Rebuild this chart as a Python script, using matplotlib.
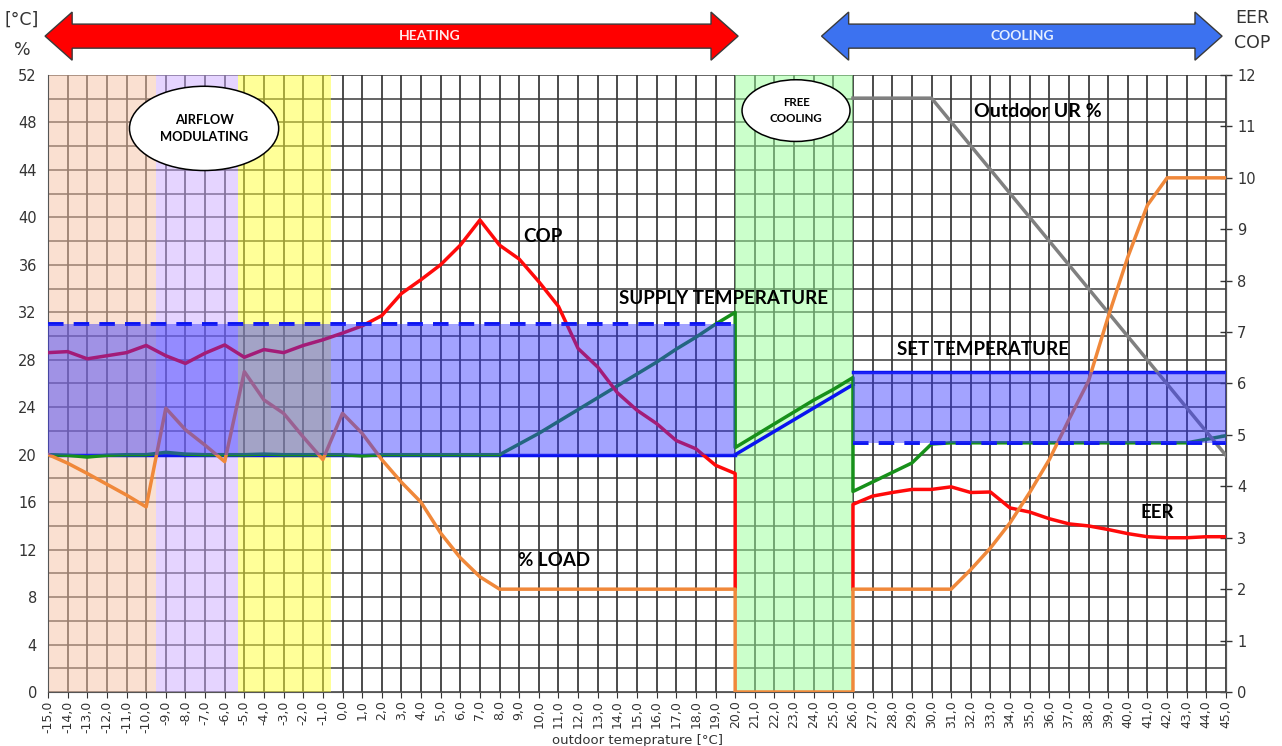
import numpy as np
import matplotlib
matplotlib.use("Agg")
import matplotlib.pyplot as plt
import matplotlib.patches as mpatches
import matplotlib.transforms as mtransforms

# ---- data ----
# outdoor temperature grid
x_ticks = list(range(-15, 46))
x_tick_labels = [f"{v},0" for v in x_ticks]

# COP (heating) / EER (cooling), right axis
cop_x = list(range(-15, 21)) + [20]
cop_y = [6.60, 6.62, 6.48, 6.54, 6.60, 6.74, 6.54, 6.39, 6.59, 6.75, 6.51, 6.66,
         6.60, 6.74, 6.85, 6.98, 7.12, 7.32, 7.75, 8.02, 8.31, 8.69, 9.18, 8.69,
         8.42, 7.98, 7.50, 6.68, 6.32, 5.82, 5.48, 5.22, 4.89, 4.73, 4.41, 4.25, 2.0]
eer_x = [26] + list(range(26, 46))
eer_y = [2.0, 3.65, 3.81, 3.88, 3.94, 3.94, 3.99, 3.88, 3.89, 3.58, 3.50, 3.37,
         3.27, 3.23, 3.16, 3.08, 3.02, 3.00, 3.00, 3.02, 3.02]

# % load, right axis
load_x = list(range(-15, 21)) + [20, 26] + list(range(26, 46))
load_y = [4.62, 4.45, 4.25, 4.04, 3.83, 3.60, 5.52, 5.10, 4.80, 4.48, 6.23, 5.68,
          5.42, 4.96, 4.52, 5.42, 5.03, 4.52, 4.08, 3.69, 3.09, 2.61, 2.24,
          2.0, 2.0, 2.0, 2.0, 2.0, 2.0, 2.0, 2.0, 2.0, 2.0, 2.0, 2.0, 2.0,
          0.0, 0.0,
          2.0, 2.0, 2.0, 2.0, 2.0, 2.0, 2.38, 2.80, 3.29, 3.88, 4.52, 5.30, 6.05,
          7.30, 8.46, 9.47, 10.0, 10.0, 10.0, 10.0]

# outdoor relative humidity, right axis
ur_x = [26, 30, 45]
ur_y = [11.55, 11.55, 4.6]

# supply temperature, left axis
sup_x = list(range(-15, 21)) + list(range(20, 27)) + list(range(26, 46))
sup_y = [20.0, 19.95, 19.8, 19.95, 20.0, 20.0, 20.2, 20.05, 20.0, 20.0, 20.0, 20.05,
         20.0, 20.0, 20.0, 20.0, 19.9, 20.0, 20.0, 20.0, 20.0, 20.0, 20.0,
         20.0, 20.9, 21.8, 22.8, 23.8, 24.8, 25.8, 26.8, 27.8, 28.9, 29.9, 31.0, 32.0,
         20.6, 21.6, 22.6, 23.6, 24.6, 25.5, 26.5,
         16.9, 17.7, 18.5, 19.3, 20.9, 21.0, 21.0, 21.0, 21.0, 21.0, 21.0, 21.0,
         21.0, 21.0, 21.0, 21.0, 21.0, 21.0, 21.3, 21.6]

# set temperature band, left axis
heat_set_x = [-15, 20]
heat_set_lo = [20, 20]
heat_set_hi = [31, 31]
free_set_x = [20, 26]
free_set_y = [20, 25.9]
cool_set_x = [26, 45]
cool_set_lo = [21, 21]
cool_set_hi = [27, 27]

# background zones (outdoor temperature ranges)
zones = [(-15, -9.5, '#F7C3A5'), (-9.5, -5.3, '#CDABFF'), (-5.3, -0.6, '#FFFF33'), (20, 26, '#99FF99')]

# ---- figure ----
fig = plt.figure(figsize=(12.82, 7.46), dpi=100)
ax = fig.add_axes([48 / 1282, 54 / 746, 1178 / 1282, 617 / 746])
ax.set_xlim(-15, 45)
ax.set_ylim(0, 52)

# right-axis values are drawn on the left axis through a scaling transform
r2l = mtransforms.Affine2D().scale(1, 52 / 12) + ax.transData

for x0, x1, c in zones:
    ax.axvspan(x0, x1, color=c, alpha=0.5, lw=0, zorder=1)

lw = 2.5
ax.plot(heat_set_x, heat_set_lo, color='#0A14F0', lw=lw, zorder=2)
ax.plot(free_set_x, free_set_y, color='#0A14F0', lw=lw, zorder=2)
ax.plot(cool_set_x, cool_set_hi, color='#0A14F0', lw=lw, zorder=2)
ax.plot(sup_x, sup_y, color='#17901A', lw=lw, zorder=3)
ax.plot(heat_set_x, heat_set_hi, color='#0A14F0', lw=2.8, ls=(0, (4, 2.6)), zorder=3.5)
ax.plot(cool_set_x, cool_set_lo, color='#0A14F0', lw=2.8, ls=(0, (4, 2.6)), zorder=3.5)
ax.plot(ur_x, ur_y, color='#808080', lw=lw, transform=r2l, zorder=3)
ax.plot(cop_x, cop_y, color='#FF0A0A', lw=lw, transform=r2l, zorder=3)
ax.plot(eer_x, eer_y, color='#FF0A0A', lw=lw, transform=r2l, zorder=3)
ax.plot(load_x, load_y, color='#F0883A', lw=lw, transform=r2l, zorder=3.2)

ax.fill_between(heat_set_x, heat_set_lo, heat_set_hi, color='#3333FF', alpha=0.45, lw=0, zorder=4)
ax.fill_between(cool_set_x, cool_set_lo, cool_set_hi, color='#3333FF', alpha=0.45, lw=0, zorder=4)

# grid
ax.set_xticks(x_ticks)
ax.set_xticklabels(x_tick_labels, rotation=90, fontsize=9, color='#333333', family='DejaVu Sans')
ax.set_yticks(range(0, 53, 4))
ax.set_yticks(range(0, 53, 2), minor=True)
ax.tick_params(axis='y', which='both', length=0, labelsize=10.5, colors='#333333', pad=8)
ax.tick_params(axis='x', length=4, color='#333333', pad=2)
ax.grid(axis='x', color='#1a1a1a', lw=1.1, zorder=0.5)
ax.grid(axis='y', which='both', color='#3a3a3a', lw=1.1, zorder=0.5)
ax.set_axisbelow(True)
for s in ax.spines.values():
    s.set_color('#555555')
ax.spines['top'].set_visible(False)

sec = ax.secondary_yaxis('right', functions=(lambda y: y * 12 / 52, lambda y: y * 52 / 12))
sec.set_yticks(range(0, 13))
sec.tick_params(direction='inout', length=9, labelsize=10.5, colors='#333333', width=1)
sec.spines['right'].set_color('#555555')

ax.set_xlabel('outdoor temeprature [°C]', fontsize=9.5, color='#333333', labelpad=1)

# labels on the chart
lab = dict(fontsize=13.5, fontweight='bold', family='Lato', ha='center', va='center', zorder=8)
ax.text(10.2, 38.4, 'COP', **lab)
ax.text(19.4, 33.2, 'SUPPLY TEMPERATURE', **lab)
ax.text(32.6, 28.9, 'SET TEMPERATURE', **lab)
ax.text(35.4, 48.9, 'Outdoor UR %', **dict(lab, fontsize=14))
ax.text(41.5, 15.1, 'EER', **lab)
ax.text(10.8, 11.1, '% LOAD', **lab)

ax.add_patch(mpatches.Ellipse((-7.05, 47.5), 7.6, 7.1, fc='white', ec='black', lw=1.1, zorder=7))
ax.text(-7.05, 47.5, 'AIRFLOW\nMODULATING', fontsize=9.3, fontweight='bold', family='Lato',
        ha='center', va='center', linespacing=1.5, zorder=8)
ax.add_patch(mpatches.Ellipse((23.1, 49.0), 5.5, 5.2, fc='white', ec='black', lw=1.1, zorder=7))
ax.text(23.1, 49.0, 'FREE\nCOOLING', fontsize=8.3, fontweight='bold', family='Lato',
        ha='center', va='center', linespacing=1.5, zorder=8)

# heating / cooling arrows above the plot
bt = mtransforms.blended_transform_factory(ax.transData, ax.transAxes)


def double_arrow(x0, x1, face, text, text_x, text_color):
    yc, bh, hh, hl = 1.063, 0.0195, 0.039, 1.38
    verts = [(x0, yc), (x0 + hl, yc + hh), (x0 + hl, yc + bh), (x1 - hl, yc + bh),
             (x1 - hl, yc + hh), (x1, yc), (x1 - hl, yc - hh), (x1 - hl, yc - bh),
             (x0 + hl, yc - bh), (x0 + hl, yc - hh)]
    ax.add_patch(mpatches.Polygon(verts, closed=True, fc=face, ec='#3a3a3a', lw=1,
                                  transform=bt, clip_on=False, zorder=9))
    ax.text(text_x, yc, text, transform=bt, color=text_color, fontsize=10,
            fontweight='bold', family='Lato', ha='center', va='center', zorder=10)


double_arrow(-15.15, 20.15, '#FF0000', 'HEATING', 4.46, '#FFE8E8')
double_arrow(24.4, 44.8, '#3C72F0', 'COOLING', 34.6, '#E4EEFF')

fig.text(22 / 1282, 1 - 20 / 746, '[°C]', fontsize=12.5, color='#333333', ha='center', va='center')
fig.text(22 / 1282, 1 - 50 / 746, '%', fontsize=12.5, color='#333333', ha='center', va='center')
fig.text(1252 / 1282, 1 - 18 / 746, 'EER', fontsize=12.5, color='#333333', ha='center', va='center')
fig.text(1252 / 1282, 1 - 43 / 746, 'COP', fontsize=12.5, color='#333333', ha='center', va='center')

fig.savefig('out.png', dpi=100)
